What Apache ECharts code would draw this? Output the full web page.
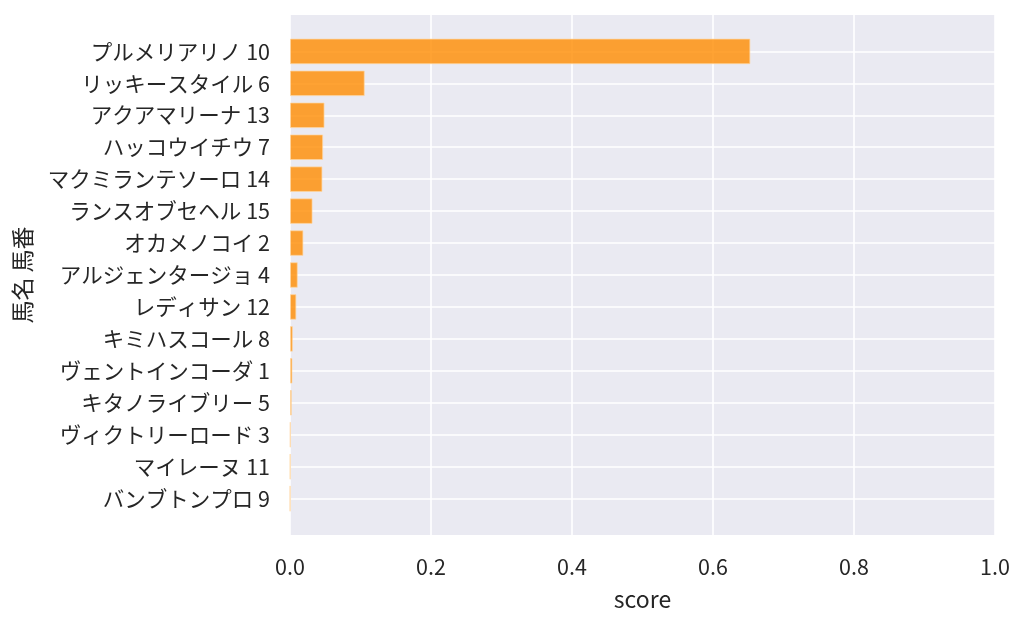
<!DOCTYPE html>
<html>
<head>
<meta charset="utf-8">
<script src="https://cdn.jsdelivr.net/npm/echarts@6/dist/echarts.min.js"></script>
<style>
html,body{margin:0;padding:0;background:#fff;}
#main{width:1024px;height:627px;}
</style>
</head>
<body>
<div id="main"></div>
<script>
const horseNames = ['プルメリアリノ','リッキースタイル','アクアマリーナ','ハッコウイチウ','マクミランテソーロ','ランスオブセヘル','オカメノコイ','アルジェンタージョ','レディサン','キミハスコール','ヴェントインコーダ','キタノライブリー','ヴィクトリーロード','マイレーヌ','バンブトンプロ'];
const horseNumbers = [10, 6, 13, 7, 14, 15, 2, 4, 12, 8, 1, 5, 3, 11, 9];
const scores = [0.653, 0.106, 0.049, 0.047, 0.046, 0.032, 0.019, 0.011, 0.009, 0.004, 0.0035, 0.0025, 0.0008, 0.0005, 0.0003];
const xTicks = [0, 0.2, 0.4, 0.6, 0.8, 1.0];
const xTitle = 'score';
const yTitle = '馬名 馬番';

const categories = horseNames.map((n, i) => n + ' ' + horseNumbers[i]);
const FONT = 'Noto Sans CJK JP';
const chart = echarts.init(document.getElementById('main'));
chart.setOption({
  backgroundColor: '#ffffff',
  textStyle: {fontFamily: FONT},
  grid: [
    {left: 290, right: 29, top: 15, bottom: 92, show: true, backgroundColor: '#EAEAF2', borderWidth: 0},
    {left: 290, right: 29, top: 51.4, bottom: 128.4, show: false}
  ],
  xAxis: [
    {
      gridIndex: 0, type: 'value', min: xTicks[0], max: xTicks[xTicks.length - 1], interval: 0.2,
      axisLine: {show: false}, axisTick: {show: false},
      axisLabel: {color: '#262626', fontSize: 21.5, margin: 21, fontFamily: FONT,
        formatter: v => v.toFixed(1)},
      splitLine: {show: true, lineStyle: {color: '#ffffff', width: 1.6}},
      name: xTitle, nameLocation: 'middle', nameGap: 53,
      nameTextStyle: {color: '#262626', fontSize: 23, fontFamily: FONT}
    },
    {
      gridIndex: 1, type: 'value', min: 0, max: 1, show: false,
      splitLine: {show: false}
    }
  ],
  yAxis: [
    {gridIndex: 0, type: 'value', show: false, splitLine: {show: false}},
    {
      gridIndex: 1, type: 'category', data: categories, inverse: true, boundaryGap: false,
      axisLine: {show: false}, axisTick: {show: false},
      axisLabel: {color: '#262626', fontSize: 21.5, margin: 20, fontFamily: FONT},
      splitLine: {show: true, lineStyle: {color: '#ffffff', width: 1.6}},
      name: yTitle, nameLocation: 'middle', nameGap: 256, nameRotate: 90,
      nameTextStyle: {color: '#262626', fontSize: 23, fontFamily: FONT}
    }
  ],
  series: [{
    type: 'bar', xAxisIndex: 1, yAxisIndex: 1, data: scores,
    barWidth: '80%', clip: false,
    itemStyle: {color: 'rgba(255,140,0,0.8)', borderColor: 'rgba(255,214,160,0.7)', borderWidth: 1},
    emphasis: {disabled: true},
    z: 3
  }],
  animation: false
});
</script>
</body>
</html>
